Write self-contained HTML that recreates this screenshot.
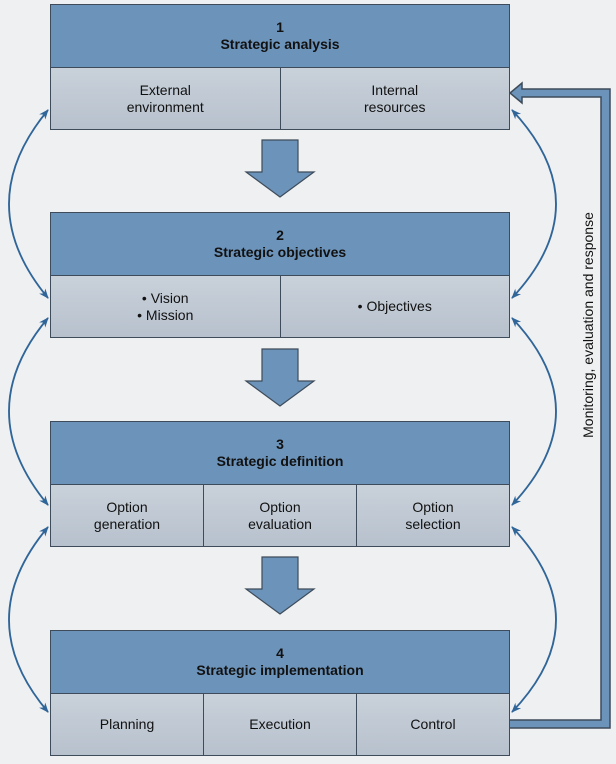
<!DOCTYPE html>
<html><head><style>
body{margin:0;width:616px;height:764px;background:#eff0f1;font-family:"Liberation Sans",sans-serif;overflow:hidden;position:relative}
.box{position:absolute;left:50px;width:460px;border:1.5px solid #3d4b5a;box-sizing:border-box}
.hd{height:62px;background:#6c93ba;border-bottom:1.5px solid #3d4b5a;display:flex;justify-content:center;align-items:center;text-align:center;font-weight:bold;font-size:14px;color:#111;line-height:17px}
.row{display:flex;height:61px;background:linear-gradient(#c9d1da,#b7c1cd)}
.row div{flex:1;display:flex;align-items:center;justify-content:center;text-align:center;font-size:14px;line-height:17px;color:#111;border-left:1.5px solid #3d4b5a}
.row div:first-child{border-left:none}
.vt{position:absolute;left:588px;top:325px;transform:translate(-50%,-50%) rotate(-90deg);white-space:nowrap;font-size:14px;color:#111}
</style></head><body>
<svg width="616" height="764" style="position:absolute;left:0;top:0">
<defs><marker id="a" markerWidth="10" markerHeight="10" refX="9" refY="5" orient="auto-start-reverse" markerUnits="userSpaceOnUse"><path d="M0,1 L10,5 L0,9 L3,5z" fill="#2f6598"/></marker></defs>
<g fill="none" stroke="#2f6598" stroke-width="1.8" marker-start="url(#a)" marker-end="url(#a)">
<path d="M48,110 Q-30,204 48,298"/>
<path d="M48,318 Q-30,411 48,505"/>
<path d="M48,527 Q-30,620 48,712"/>
<path d="M512,110 Q600,204 512,298"/>
<path d="M512,318 Q600,411 512,505"/>
<path d="M512,527 Q600,620 512,712"/>
</g>
<path d="M510,728 L610,728 L610,89 L522,89 L522,83 L510,93 L522,103 L522,97 L601,97 L601,720 L510,720" fill="#6c93ba" stroke="#3d4b5a" stroke-width="1.5"/>
<g fill="#6c93ba" stroke="#3d4b5a" stroke-width="1.2">
<path d="M262,140 L298,140 L298,172 L314,172 L280,197 L246,172 L262,172z"/>
<path d="M262,349 L298,349 L298,381 L314,381 L280,406 L246,381 L262,381z"/>
<path d="M262,557 L298,557 L298,589 L314,589 L280,614 L246,589 L262,589z"/>
</g>
</svg>
<div class="box" style="top:4px"><div class="hd"><span>1<br>Strategic analysis</span></div><div class="row"><div>External<br>environment</div><div>Internal<br>resources</div></div></div>
<div class="box" style="top:212px"><div class="hd"><span>2<br>Strategic objectives</span></div><div class="row"><div>• Vision<br>• Mission</div><div>• Objectives</div></div></div>
<div class="box" style="top:421px"><div class="hd"><span>3<br>Strategic definition</span></div><div class="row"><div>Option<br>generation</div><div>Option<br>evaluation</div><div>Option<br>selection</div></div></div>
<div class="box" style="top:630px"><div class="hd"><span>4<br>Strategic implementation</span></div><div class="row"><div>Planning</div><div>Execution</div><div>Control</div></div></div>
<div class="vt">Monitoring, evaluation and response</div>
</body></html>
